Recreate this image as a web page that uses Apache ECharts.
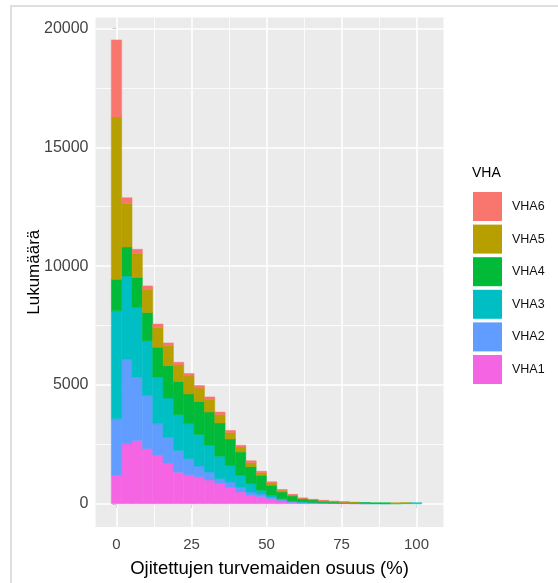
<!DOCTYPE html>
<html>
<head>
<meta charset="utf-8">
<script src="https://cdn.jsdelivr.net/npm/echarts@6/dist/echarts.min.js"></script>
<style>
  html, body { margin: 0; padding: 0; background: #ffffff; }
  #chart { width: 558px; height: 583px; }
</style>
</head>
<body>
<div id="chart"></div>
<script>
// Histogram bins: centres (%) and common bin width
const binCenters = [0, 3.45, 6.9, 10.34, 13.79, 17.24, 20.69, 24.14, 27.59, 31.03,
  34.48, 37.93, 41.38, 44.83, 48.28, 51.72, 55.17, 58.62, 62.07, 65.52,
  68.97, 72.41, 75.86, 79.31, 82.76, 86.21, 89.66, 93.1, 96.55, 100];
const binWidth = 3.448;

// Counts per bin for each VHA class
const vha1 = [1200, 2529, 2668, 2320, 2039, 1720, 1330, 1230, 1140, 1000,
  860, 710, 500, 360, 310, 220, 140, 70, 50, 40, 30, 25, 20, 10, 5, 0, 0, 0, 0, 0];
const vha2 = [2378, 3566, 2659, 2236, 1329, 1090, 920, 670, 450, 340,
  200, 210, 210, 140, 110, 70, 40, 25, 20, 15, 10, 10, 5, 0, 0, 0, 0, 0, 0, 0];
const vha3 = [4543, 3494, 2936, 2307, 1959, 1640, 1500, 1470, 1330, 1120,
  940, 690, 490, 350, 150, 70, 40, 30, 20, 15, 15, 10, 15, 40, 40, 10, 5, 0, 40, 50];
const vha4 = [1330, 1216, 1259, 1191, 1259, 1365, 1400, 1250, 1390, 1400,
  1400, 1115, 980, 720, 630, 420, 280, 210, 120, 90, 60, 40, 25, 10, 10, 40, 45, 10, 0, 0];
const vha5 = [6824, 1833, 1006, 977, 838, 839, 694, 760, 560, 540,
  360, 275, 210, 160, 110, 110, 70, 40, 25, 20, 25, 20, 10, 5, 0, 0, 0, 35, 5, 0];
const vha6 = [3243, 239, 181, 139, 139, 116, 112, 100, 105, 100,
  100, 89, 80, 80, 60, 40, 30, 25, 15, 10, 10, 5, 10, 0, 0, 0, 0, 0, 0, 0];

// Stack order: VHA1 at the bottom, VHA6 on top
const seriesNames = ['VHA1', 'VHA2', 'VHA3', 'VHA4', 'VHA5', 'VHA6'];
const seriesValues = [vha1, vha2, vha3, vha4, vha5, vha6];
const seriesColors = ['#F564E3', '#619CFF', '#00BFC4', '#00BA38', '#B79F00', '#F8766D'];
const legendOrder = ['VHA6', 'VHA5', 'VHA4', 'VHA3', 'VHA2', 'VHA1'];

// Axis breaks
const xTicks = [0, 25, 50, 75, 100];
const xMinor = [12.5, 37.5, 62.5, 87.5];
const yTicks = [0, 5000, 10000, 15000, 20000];
const yMinor = [2500, 7500, 12500, 17500];

const xTitle = 'Ojitettujen turvemaiden osuus (%)';
const yTitle = 'Lukumäärä';

const FONT = 'Liberation Sans';

// Build stacked [centre, lower, upper] rows
const running = binCenters.map(() => 0);
const barSeries = seriesNames.map((name, s) => {
  const rows = binCenters.map((c, i) => {
    const lo = running[i];
    const hi = lo + seriesValues[s][i];
    running[i] = hi;
    return [c, lo, hi];
  });
  const color = seriesColors[s];
  return {
    name: name,
    type: 'custom',
    z: 10,
    clip: true,
    itemStyle: { color: color },
    encode: { x: 0, y: [1, 2] },
    data: rows,
    renderItem: function (params, api) {
      const c = api.value(0), lo = api.value(1), hi = api.value(2);
      if (hi <= lo) return null;
      const p0 = api.coord([c - binWidth / 2, hi]);
      const p1 = api.coord([c + binWidth / 2, lo]);
      return {
        type: 'rect',
        shape: { x: p0[0], y: p0[1], width: p1[0] - p0[0], height: p1[1] - p0[1] },
        // thin same-colour outline closes anti-aliasing seams between adjacent bins
        style: { fill: color, stroke: color, lineWidth: 0.5 }
      };
    }
  };
});

// Panel grid lines (major + minor), drawn beneath the bars
const gridLines = []
  .concat(xTicks.map(v => ({ xAxis: v, lineStyle: { width: 1.6 } })))
  .concat(xMinor.map(v => ({ xAxis: v, lineStyle: { width: 0.8 } })))
  .concat(yTicks.map(v => ({ yAxis: v, lineStyle: { width: 1.6 } })))
  .concat(yMinor.map(v => ({ yAxis: v, lineStyle: { width: 0.8 } })));

const gridSeries = {
  name: 'grid',
  type: 'line',
  z: 1,
  data: [],
  silent: true,
  showSymbol: false,
  markLine: {
    z: 1,
    silent: true,
    animation: false,
    symbol: ['none', 'none'],
    label: { show: false },
    lineStyle: { color: '#FFFFFF', type: 'solid' },
    data: gridLines
  }
};

const chart = echarts.init(document.getElementById('chart'), null, { renderer: 'canvas' });
chart.setOption({
  animation: false,
  backgroundColor: '#ffffff',
  graphic: [{
    type: 'rect',
    z: -10,
    silent: true,
    shape: { x: 11, y: 6, width: 620, height: 620 },
    style: { fill: 'none', stroke: '#DEDEDE', lineWidth: 2 }
  }],
  title: {
    text: 'VHA',
    left: 472,
    top: 166,
    padding: 0,
    textStyle: { fontFamily: FONT, fontSize: 14, fontWeight: 'normal', color: '#000000' }
  },
  legend: {
    orient: 'vertical',
    left: 473,
    top: 192,
    padding: 0,
    itemWidth: 29,
    itemHeight: 29,
    itemGap: 3.6,
    icon: 'rect',
    data: legendOrder,
    textStyle: { fontFamily: FONT, fontSize: 12.5, color: '#111111', padding: [0, 0, 0, 5] }
  },
  grid: {
    left: 95.5,
    right: 114.5,
    top: 17.5,
    bottom: 54.5,
    show: true,
    backgroundColor: '#EBEBEB',
    borderWidth: 0
  },
  xAxis: {
    type: 'value',
    min: -7,
    max: 109,
    name: xTitle,
    nameLocation: 'middle',
    nameGap: 32,
    nameTextStyle: { fontFamily: FONT, fontSize: 18.5, color: '#000000' },
    axisLine: { show: false },
    splitLine: { show: false },
    axisTick: { show: true, customValues: xTicks, length: 4, lineStyle: { color: '#333333', width: 1 } },
    axisLabel: {
      customValues: xTicks,
      margin: 10,
      fontFamily: FONT,
      fontSize: 15,
      color: '#444444',
      formatter: v => String(v)
    }
  },
  yAxis: {
    type: 'value',
    min: -973,
    max: 20461,
    name: yTitle,
    nameLocation: 'middle',
    nameRotate: 90,
    nameGap: 53,
    nameMoveOverlap: false,
    nameTextStyle: { fontFamily: FONT, fontSize: 17, color: '#000000' },
    axisLine: { show: false },
    splitLine: { show: false },
    axisTick: { show: true, customValues: yTicks, length: 4, lineStyle: { color: '#333333', width: 1 } },
    axisLabel: {
      customValues: yTicks,
      margin: 7,
      fontFamily: FONT,
      fontSize: 16,
      color: '#444444',
      formatter: v => String(v)
    }
  },
  series: [gridSeries].concat(barSeries)
});
</script>
</body>
</html>
